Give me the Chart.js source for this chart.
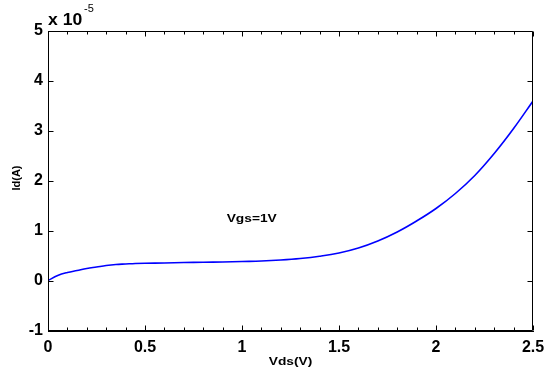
<!DOCTYPE html>
<html>
<head>
<meta charset="utf-8">
<script src="https://cdn.jsdelivr.net/npm/chart.js@4.4.0/dist/chart.umd.min.js"></script>
<style>
  html, body { margin: 0; padding: 0; background: #fff; }
  canvas { display: block; }
</style>
</head>
<body>
<canvas id="ivChart" width="546" height="374"></canvas>
<script>
// Vds sweep (V) and drain current Id (in units of 1e-5 A)
const vds = [0, 0.05, 0.1, 0.15, 0.2, 0.25, 0.3, 0.35, 0.4, 0.45, 0.5, 0.6, 0.7, 0.8, 0.9, 1.0,
             1.1, 1.2, 1.3, 1.4, 1.5, 1.6, 1.7, 1.8, 1.9, 2.0, 2.1, 2.2, 2.3, 2.4, 2.5];
const idE5 = [0.01, 0.11, 0.17, 0.21, 0.25, 0.28, 0.31, 0.33, 0.34, 0.35, 0.355, 0.36, 0.37, 0.375, 0.38, 0.39,
              0.40, 0.42, 0.45, 0.495, 0.56, 0.66, 0.80, 0.98, 1.20, 1.45, 1.75, 2.11, 2.55, 3.05, 3.60];
const xTicks = [0, 0.5, 1, 1.5, 2, 2.5];
const yTicks = [-1, 0, 1, 2, 3, 4, 5];
const xLabel = 'Vds(V)';
const yLabel = 'Id(A)';
const note = 'Vgs=1V';

const black = '#000';
const tickFont = { family: 'Arial, "Liberation Sans", sans-serif', size: 16, weight: 'bold' };

function stretchText(ctx, text, x, y, sx, font) {
    ctx.save();
    ctx.font = font;
    ctx.translate(x, y);
    ctx.scale(sx, 1);
    ctx.fillText(text, 0, 0);
    ctx.restore();
}

const matlabFrame = {
    id: 'matlabFrame',
    afterDraw(chart) {
        const ctx = chart.ctx;
        const a = chart.chartArea;
        const xs = chart.scales.x, ys = chart.scales.y;
        const L = Math.round(a.left) + 0.5, R = Math.round(a.right) - 0.5;
        const T = Math.round(a.top) + 0.5, B = Math.round(a.bottom) - 0.5;
        ctx.save();
        ctx.strokeStyle = black;
        ctx.lineWidth = 1;
        ctx.beginPath();
        ctx.rect(L, T, R - L, B - T);
        // x ticks every 0.1, longer at labelled values
        for (let i = 0; i <= 25; i++) {
            const px = Math.round(xs.getPixelForValue(i / 10)) + 0.5;
            const len = (i % 5 === 0) ? 5 : 3;
            ctx.moveTo(px, B); ctx.lineTo(px, B - len);
            ctx.moveTo(px, T); ctx.lineTo(px, T + len);
        }
        yTicks.forEach(v => {
            const py = Math.round(ys.getPixelForValue(v)) + 0.5;
            ctx.moveTo(L, py); ctx.lineTo(L + 5, py);
            ctx.moveTo(R, py); ctx.lineTo(R - 5, py);
        });
        ctx.stroke();

        ctx.fillStyle = black;
        ctx.textAlign = 'center';
        ctx.textBaseline = 'middle';
        const small = 'bold 11px Arial, "Liberation Sans", sans-serif';
        stretchText(ctx, xLabel, (a.left + a.right) / 2, 362, 1.25, small);
        stretchText(ctx, note, xs.getPixelForValue(1.05), 219, 1.25, small);

        ctx.save();
        ctx.font = small;
        ctx.translate(17, 178);
        ctx.rotate(-Math.PI / 2);
        ctx.fillText(yLabel, 0, 0);
        ctx.restore();

        // exponent marker
        ctx.textAlign = 'left';
        ctx.textBaseline = 'alphabetic';
        stretchText(ctx, 'x 10', 48, 25, 1.1, 'bold 16px Arial, "Liberation Sans", sans-serif');
        stretchText(ctx, '-5', 84, 12, 1.1, '10px Arial, "Liberation Sans", sans-serif');
        ctx.restore();
    }
};

document.addEventListener('DOMContentLoaded', function () {
    let ctx = document.getElementById('ivChart').getContext('2d');
    let points = vds.map((v, i) => ({ x: v, y: idE5[i] }));

    new Chart(ctx, {
        type: 'line',
        data: {
            datasets: [{
                data: points,
                borderColor: '#0000ff',
                borderWidth: 1.6,
                pointRadius: 0,
                tension: 0.4,
                fill: false
            }]
        },
        options: {
            responsive: false,
            animation: false,
            layout: { padding: { top: 31, right: 13, left: 0, bottom: 0 } },
            plugins: { legend: { display: false }, tooltip: { enabled: false } },
            scales: {
                x: {
                    type: 'linear',
                    min: 0,
                    max: 2.5,
                    afterBuildTicks: s => { s.ticks = xTicks.map(v => ({ value: v })); },
                    afterFit: s => { s.height = 43; s.paddingLeft = 0; s.paddingRight = 0; },
                    ticks: { color: black, font: tickFont, padding: 7, maxRotation: 0,
                             callback: v => String(v) },
                    grid: { drawOnChartArea: false, drawTicks: false },
                    border: { color: black }
                },
                y: {
                    min: -1,
                    max: 5,
                    afterBuildTicks: s => { s.ticks = yTicks.map(v => ({ value: v })); },
                    afterFit: s => { s.width = 48; s.paddingTop = 0; s.paddingBottom = 0; },
                    ticks: { color: black, font: tickFont, padding: 5 },
                    grid: { drawOnChartArea: false, drawTicks: false },
                    border: { color: black }
                }
            }
        },
        plugins: [matlabFrame]
    });
});
</script>
</body>
</html>
